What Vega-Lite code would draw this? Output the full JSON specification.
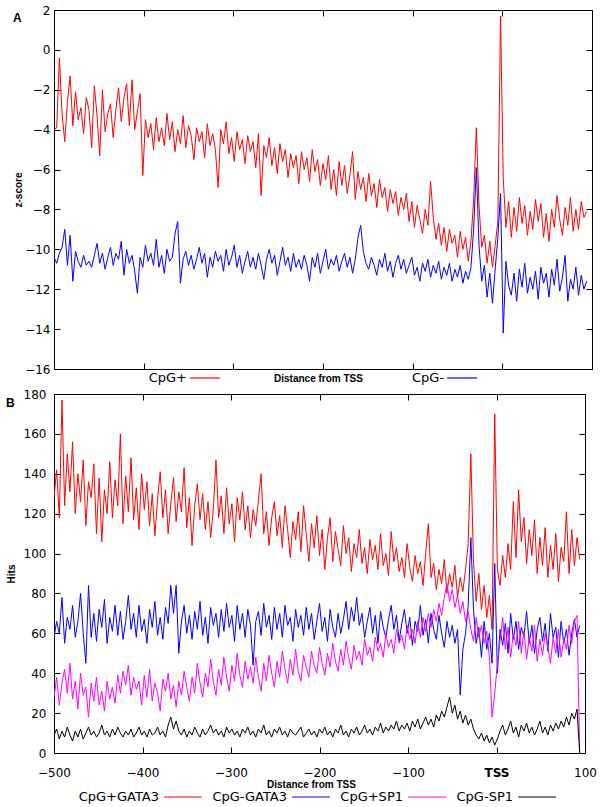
{
"$schema": "https://vega.github.io/schema/vega-lite/v6.json",
"background": "white",
"padding": {"left": 5, "top": 3, "right": 8, "bottom": 2},
"spacing": 1,
"config": {
  "font": "DejaVu Sans",
  "view": {"stroke": "black", "strokeWidth": 1},
  "axis": {"grid": false, "domainColor": "black", "domainWidth": 1, "tickColor": "black", "tickSize": -6, "labelFont": "DejaVu Sans", "labelFontSize": 12, "labelColor": "black", "labelFlush": false, "labelOverlap": false, "titleFont": "Liberation Sans", "titleFontWeight": "bold", "titleFontSize": 10, "titleColor": "black"},
  "legend": {"labelFont": "DejaVu Sans", "labelFontSize": 13, "labelColor": "black", "symbolType": "stroke", "symbolStrokeWidth": 1.2}
},
"datasets": {"d": [
{"x":-500,"p":-4.0,"m":-10.4,"a":128,"b":58,"c":28,"d":9},
{"x":-497,"p":-3.9,"m":-10.7,"a":142,"b":66,"c":38,"d":12},
{"x":-494,"p":-0.4,"m":-10.2,"a":118,"b":60,"c":24,"d":7},
{"x":-491,"p":-3.2,"m":-9.9,"a":177,"b":78,"c":35,"d":11},
{"x":-488,"p":-4.6,"m":-9.0,"a":124,"b":55,"c":42,"d":8},
{"x":-485,"p":-2.6,"m":-10.8,"a":150,"b":68,"c":30,"d":13},
{"x":-482,"p":-1.3,"m":-9.3,"a":131,"b":62,"c":45,"d":9},
{"x":-479,"p":-3.8,"m":-11.6,"a":156,"b":74,"c":27,"d":6},
{"x":-476,"p":-2.1,"m":-10.1,"a":120,"b":58,"c":36,"d":11},
{"x":-473,"p":-3.5,"m":-10.6,"a":140,"b":66,"c":22,"d":8},
{"x":-470,"p":-2.9,"m":-10.9,"a":126,"b":80,"c":40,"d":12},
{"x":-467,"p":-4.2,"m":-10.3,"a":147,"b":60,"c":29,"d":7},
{"x":-464,"p":-2.4,"m":-10.8,"a":114,"b":45,"c":33,"d":10},
{"x":-461,"p":-3.0,"m":-10.6,"a":136,"b":84,"c":18,"d":13},
{"x":-458,"p":-4.9,"m":-10.9,"a":128,"b":58,"c":35,"d":9},
{"x":-455,"p":-1.8,"m":-10.3,"a":145,"b":70,"c":26,"d":11},
{"x":-452,"p":-3.3,"m":-9.7,"a":110,"b":56,"c":38,"d":8},
{"x":-449,"p":-5.3,"m":-10.7,"a":138,"b":72,"c":24,"d":10},
{"x":-446,"p":-2.0,"m":-10.2,"a":106,"b":63,"c":31,"d":14},
{"x":-443,"p":-4.1,"m":-11.0,"a":132,"b":77,"c":21,"d":9},
{"x":-440,"p":-3.2,"m":-10.4,"a":120,"b":55,"c":36,"d":11},
{"x":-437,"p":-2.7,"m":-9.9,"a":146,"b":68,"c":27,"d":8},
{"x":-434,"p":-4.4,"m":-10.8,"a":118,"b":61,"c":33,"d":12},
{"x":-431,"p":-3.0,"m":-10.2,"a":137,"b":74,"c":25,"d":9},
{"x":-428,"p":-1.9,"m":-10.5,"a":124,"b":59,"c":39,"d":13},
{"x":-425,"p":-3.6,"m":-9.6,"a":160,"b":71,"c":30,"d":10},
{"x":-422,"p":-2.4,"m":-11.3,"a":115,"b":57,"c":41,"d":8},
{"x":-419,"p":-1.7,"m":-10.0,"a":139,"b":66,"c":34,"d":11},
{"x":-416,"p":-3.8,"m":-10.7,"a":121,"b":79,"c":44,"d":9},
{"x":-413,"p":-1.5,"m":-10.3,"a":148,"b":62,"c":29,"d":12},
{"x":-410,"p":-4.0,"m":-11.1,"a":117,"b":70,"c":38,"d":8},
{"x":-407,"p":-3.1,"m":-12.2,"a":133,"b":58,"c":32,"d":10},
{"x":-404,"p":-2.2,"m":-10.4,"a":112,"b":74,"c":36,"d":13},
{"x":-401,"p":-6.3,"m":-10.9,"a":140,"b":61,"c":24,"d":9},
{"x":-398,"p":-3.5,"m":-9.8,"a":122,"b":67,"c":39,"d":11},
{"x":-395,"p":-4.4,"m":-10.6,"a":136,"b":55,"c":28,"d":8},
{"x":-392,"p":-3.7,"m":-10.2,"a":114,"b":72,"c":42,"d":12},
{"x":-389,"p":-5.0,"m":-10.8,"a":130,"b":63,"c":26,"d":9},
{"x":-386,"p":-3.4,"m":-9.5,"a":109,"b":76,"c":35,"d":10},
{"x":-383,"p":-4.6,"m":-10.9,"a":127,"b":59,"c":30,"d":13},
{"x":-380,"p":-3.9,"m":-10.3,"a":141,"b":68,"c":21,"d":9},
{"x":-377,"p":-4.8,"m":-11.2,"a":118,"b":57,"c":37,"d":11},
{"x":-374,"p":-3.2,"m":-10.0,"a":132,"b":73,"c":31,"d":8},
{"x":-371,"p":-4.5,"m":-10.6,"a":110,"b":65,"c":40,"d":14},
{"x":-368,"p":-3.6,"m":-10.4,"a":125,"b":84,"c":27,"d":18},
{"x":-365,"p":-5.1,"m":-9.2,"a":138,"b":70,"c":34,"d":12},
{"x":-362,"p":-4.0,"m":-8.6,"a":116,"b":84,"c":23,"d":16},
{"x":-359,"p":-4.7,"m":-11.7,"a":131,"b":50,"c":36,"d":11},
{"x":-356,"p":-3.3,"m":-10.5,"a":121,"b":66,"c":29,"d":9},
{"x":-353,"p":-4.9,"m":-10.1,"a":143,"b":74,"c":41,"d":12},
{"x":-350,"p":-3.8,"m":-10.8,"a":113,"b":60,"c":33,"d":8},
{"x":-347,"p":-4.3,"m":-10.3,"a":128,"b":69,"c":26,"d":11},
{"x":-344,"p":-5.5,"m":-11.0,"a":104,"b":57,"c":38,"d":9},
{"x":-341,"p":-3.9,"m":-10.5,"a":124,"b":71,"c":30,"d":13},
{"x":-338,"p":-4.6,"m":-9.9,"a":135,"b":62,"c":45,"d":10},
{"x":-335,"p":-4.1,"m":-10.7,"a":117,"b":76,"c":35,"d":8},
{"x":-332,"p":-5.4,"m":-10.2,"a":130,"b":59,"c":28,"d":12},
{"x":-329,"p":-3.7,"m":-11.4,"a":112,"b":68,"c":40,"d":9},
{"x":-326,"p":-4.8,"m":-10.4,"a":126,"b":55,"c":33,"d":11},
{"x":-323,"p":-4.2,"m":-10.9,"a":108,"b":73,"c":47,"d":14},
{"x":-320,"p":-5.0,"m":-10.1,"a":122,"b":64,"c":36,"d":10},
{"x":-317,"p":-6.9,"m":-10.6,"a":147,"b":70,"c":29,"d":12},
{"x":-314,"p":-4.0,"m":-10.3,"a":118,"b":58,"c":42,"d":9},
{"x":-311,"p":-4.7,"m":-11.1,"a":129,"b":72,"c":34,"d":11},
{"x":-308,"p":-3.6,"m":-10.0,"a":110,"b":61,"c":48,"d":8},
{"x":-305,"p":-5.2,"m":-10.8,"a":133,"b":75,"c":38,"d":13},
{"x":-302,"p":-4.4,"m":-10.4,"a":115,"b":63,"c":31,"d":10},
{"x":-299,"p":-5.6,"m":-9.8,"a":125,"b":69,"c":44,"d":12},
{"x":-296,"p":-4.1,"m":-10.9,"a":106,"b":56,"c":36,"d":9},
{"x":-293,"p":-5.0,"m":-10.3,"a":128,"b":74,"c":50,"d":11},
{"x":-290,"p":-4.5,"m":-11.2,"a":117,"b":62,"c":39,"d":8},
{"x":-287,"p":-5.7,"m":-10.6,"a":131,"b":70,"c":33,"d":12},
{"x":-284,"p":-4.3,"m":-10.1,"a":112,"b":58,"c":46,"d":10},
{"x":-281,"p":-5.1,"m":-10.9,"a":124,"b":72,"c":37,"d":13},
{"x":-278,"p":-4.6,"m":-10.4,"a":108,"b":64,"c":43,"d":9},
{"x":-275,"p":-5.9,"m":-11.0,"a":122,"b":44,"c":35,"d":11},
{"x":-272,"p":-4.2,"m":-10.2,"a":114,"b":66,"c":48,"d":8},
{"x":-269,"p":-7.3,"m":-10.8,"a":127,"b":71,"c":38,"d":12},
{"x":-266,"p":-4.8,"m":-11.5,"a":140,"b":59,"c":31,"d":10},
{"x":-263,"p":-5.4,"m":-10.5,"a":110,"b":75,"c":45,"d":14},
{"x":-260,"p":-4.4,"m":-10.0,"a":121,"b":63,"c":36,"d":9},
{"x":-257,"p":-5.8,"m":-10.7,"a":104,"b":69,"c":49,"d":11},
{"x":-254,"p":-4.9,"m":-10.3,"a":118,"b":57,"c":40,"d":8},
{"x":-251,"p":-6.2,"m":-11.3,"a":126,"b":73,"c":33,"d":12},
{"x":-248,"p":-4.7,"m":-10.6,"a":109,"b":62,"c":46,"d":10},
{"x":-245,"p":-5.6,"m":-9.9,"a":119,"b":70,"c":38,"d":13},
{"x":-242,"p":-5.0,"m":-10.8,"a":103,"b":58,"c":51,"d":9},
{"x":-239,"p":-6.4,"m":-10.4,"a":124,"b":74,"c":42,"d":11},
{"x":-236,"p":-5.2,"m":-11.1,"a":112,"b":64,"c":35,"d":8},
{"x":-233,"p":-5.9,"m":-10.2,"a":98,"b":68,"c":47,"d":12},
{"x":-230,"p":-5.3,"m":-10.9,"a":116,"b":56,"c":39,"d":10},
{"x":-227,"p":-6.7,"m":-10.5,"a":107,"b":72,"c":52,"d":9},
{"x":-224,"p":-5.1,"m":-11.0,"a":121,"b":63,"c":41,"d":11},
{"x":-221,"p":-6.0,"m":-10.3,"a":101,"b":69,"c":36,"d":13},
{"x":-218,"p":-5.4,"m":-10.8,"a":124,"b":59,"c":49,"d":8},
{"x":-215,"p":-6.6,"m":-11.6,"a":110,"b":73,"c":43,"d":10},
{"x":-212,"p":-5.0,"m":-10.4,"a":96,"b":62,"c":38,"d":12},
{"x":-209,"p":-6.1,"m":-10.9,"a":115,"b":70,"c":51,"d":9},
{"x":-206,"p":-5.5,"m":-10.2,"a":103,"b":57,"c":44,"d":11},
{"x":-203,"p":-6.8,"m":-11.2,"a":119,"b":66,"c":40,"d":8},
{"x":-200,"p":-5.7,"m":-10.6,"a":99,"b":75,"c":53,"d":12},
{"x":-197,"p":-6.5,"m":-10.0,"a":112,"b":61,"c":45,"d":10},
{"x":-194,"p":-5.3,"m":-11.0,"a":92,"b":68,"c":39,"d":13},
{"x":-191,"p":-7.0,"m":-10.5,"a":108,"b":56,"c":50,"d":9},
{"x":-188,"p":-6.0,"m":-10.8,"a":118,"b":72,"c":43,"d":11},
{"x":-185,"p":-7.3,"m":-10.3,"a":96,"b":63,"c":55,"d":8},
{"x":-182,"p":-5.6,"m":-11.1,"a":111,"b":58,"c":46,"d":12},
{"x":-179,"p":-6.8,"m":-10.6,"a":102,"b":70,"c":41,"d":10},
{"x":-176,"p":-5.8,"m":-10.2,"a":94,"b":60,"c":52,"d":14},
{"x":-173,"p":-7.2,"m":-10.9,"a":114,"b":67,"c":44,"d":9},
{"x":-170,"p":-6.3,"m":-10.4,"a":100,"b":76,"c":56,"d":11},
{"x":-167,"p":-5.1,"m":-11.2,"a":108,"b":62,"c":48,"d":8},
{"x":-164,"p":-7.5,"m":-10.5,"a":91,"b":73,"c":42,"d":12},
{"x":-161,"p":-6.1,"m":-9.4,"a":105,"b":66,"c":54,"d":10},
{"x":-158,"p":-7.0,"m":-8.8,"a":98,"b":78,"c":47,"d":13},
{"x":-155,"p":-6.4,"m":-10.1,"a":112,"b":64,"c":51,"d":9},
{"x":-152,"p":-7.6,"m":-10.7,"a":95,"b":70,"c":44,"d":11},
{"x":-149,"p":-6.2,"m":-11.0,"a":103,"b":58,"c":57,"d":14},
{"x":-146,"p":-7.3,"m":-10.4,"a":90,"b":66,"c":49,"d":10},
{"x":-143,"p":-6.7,"m":-10.8,"a":107,"b":73,"c":53,"d":12},
{"x":-140,"p":-7.9,"m":-11.3,"a":97,"b":60,"c":46,"d":9},
{"x":-137,"p":-6.5,"m":-10.5,"a":104,"b":69,"c":58,"d":13},
{"x":-134,"p":-7.4,"m":-10.9,"a":92,"b":55,"c":51,"d":11},
{"x":-131,"p":-6.9,"m":-10.2,"a":110,"b":71,"c":55,"d":15},
{"x":-128,"p":-8.1,"m":-11.1,"a":94,"b":63,"c":48,"d":10},
{"x":-125,"p":-7.0,"m":-10.6,"a":100,"b":58,"c":60,"d":13},
{"x":-122,"p":-7.7,"m":-11.4,"a":89,"b":67,"c":53,"d":11},
{"x":-119,"p":-7.1,"m":-10.7,"a":111,"b":74,"c":57,"d":14},
{"x":-116,"p":-8.3,"m":-10.3,"a":96,"b":62,"c":50,"d":12},
{"x":-113,"p":-7.4,"m":-11.0,"a":103,"b":69,"c":62,"d":16},
{"x":-110,"p":-8.0,"m":-10.5,"a":91,"b":56,"c":55,"d":11},
{"x":-107,"p":-7.2,"m":-11.2,"a":98,"b":65,"c":59,"d":14},
{"x":-104,"p":-8.6,"m":-10.8,"a":88,"b":72,"c":52,"d":12},
{"x":-101,"p":-7.6,"m":-10.4,"a":105,"b":60,"c":64,"d":15},
{"x":-98,"p":-8.9,"m":-11.3,"a":93,"b":68,"c":57,"d":11},
{"x":-95,"p":-7.8,"m":-10.9,"a":86,"b":54,"c":62,"d":16},
{"x":-92,"p":-8.5,"m":-11.6,"a":99,"b":66,"c":55,"d":13},
{"x":-89,"p":-9.2,"m":-10.7,"a":90,"b":61,"c":66,"d":17},
{"x":-86,"p":-8.0,"m":-11.1,"a":96,"b":74,"c":58,"d":12},
{"x":-83,"p":-8.8,"m":-10.5,"a":84,"b":59,"c":68,"d":15},
{"x":-80,"p":-6.6,"m":-11.4,"a":100,"b":67,"c":61,"d":18},
{"x":-77,"p":-8.4,"m":-10.8,"a":115,"b":55,"c":70,"d":14},
{"x":-74,"p":-9.5,"m":-11.2,"a":88,"b":70,"c":63,"d":17},
{"x":-71,"p":-8.7,"m":-10.6,"a":95,"b":62,"c":72,"d":13},
{"x":-68,"p":-9.8,"m":-11.5,"a":82,"b":57,"c":66,"d":19},
{"x":-65,"p":-8.9,"m":-10.9,"a":92,"b":69,"c":75,"d":16},
{"x":-62,"p":-10.1,"m":-11.3,"a":85,"b":60,"c":69,"d":21},
{"x":-59,"p":-9.0,"m":-10.7,"a":97,"b":53,"c":78,"d":18},
{"x":-56,"p":-9.7,"m":-11.6,"a":80,"b":66,"c":85,"d":23},
{"x":-53,"p":-9.3,"m":-11.0,"a":90,"b":58,"c":76,"d":28},
{"x":-50,"p":-10.4,"m":-11.4,"a":83,"b":64,"c":82,"d":20},
{"x":-47,"p":-9.1,"m":-10.8,"a":94,"b":55,"c":73,"d":24},
{"x":-44,"p":-10.0,"m":-11.7,"a":78,"b":62,"c":79,"d":17},
{"x":-41,"p":-9.4,"m":-11.1,"a":88,"b":29,"c":70,"d":21},
{"x":-38,"p":-10.6,"m":-11.5,"a":81,"b":52,"c":76,"d":15},
{"x":-35,"p":-9.6,"m":-10.9,"a":92,"b":60,"c":66,"d":19},
{"x":-32,"p":-7.5,"m":-9.0,"a":105,"b":74,"c":71,"d":14},
{"x":-29,"p":-3.9,"m":-5.9,"a":150,"b":108,"c":62,"d":17},
{"x":-26,"p":-7.8,"m":-9.8,"a":96,"b":72,"c":56,"d":12},
{"x":-23,"p":-9.9,"m":-11.6,"a":76,"b":55,"c":68,"d":9},
{"x":-20,"p":-9.3,"m":-10.8,"a":90,"b":63,"c":58,"d":7},
{"x":-17,"p":-10.7,"m":-12.4,"a":72,"b":48,"c":64,"d":10},
{"x":-14,"p":-9.6,"m":-11.2,"a":84,"b":66,"c":55,"d":6},
{"x":-11,"p":-10.9,"m":-12.7,"a":68,"b":52,"c":61,"d":9},
{"x":-8,"p":-9.8,"m":-11.0,"a":79,"b":60,"c":48,"d":5},
{"x":-5,"p":-8.6,"m":-9.4,"a":62,"b":45,"c":18,"d":8},
{"x":-2,"p":1.7,"m":-7.2,"a":170,"b":95,"c":30,"d":4},
{"x":1,"p":-6.4,"m":-14.2,"a":92,"b":40,"c":45,"d":7},
{"x":4,"p":-8.9,"m":-10.6,"a":84,"b":62,"c":56,"d":11},
{"x":7,"p":-7.6,"m":-11.8,"a":99,"b":54,"c":68,"d":14},
{"x":10,"p":-9.4,"m":-12.3,"a":88,"b":65,"c":52,"d":9},
{"x":13,"p":-7.9,"m":-11.2,"a":105,"b":50,"c":63,"d":12},
{"x":16,"p":-9.1,"m":-12.6,"a":92,"b":70,"c":48,"d":16},
{"x":19,"p":-7.4,"m":-11.0,"a":126,"b":57,"c":60,"d":10},
{"x":22,"p":-8.7,"m":-11.9,"a":98,"b":66,"c":54,"d":13},
{"x":25,"p":-7.8,"m":-10.7,"a":132,"b":52,"c":66,"d":8},
{"x":28,"p":-9.3,"m":-12.2,"a":106,"b":63,"c":50,"d":14},
{"x":31,"p":-8.1,"m":-11.4,"a":118,"b":58,"c":61,"d":11},
{"x":34,"p":-9.0,"m":-12.0,"a":95,"b":71,"c":47,"d":15},
{"x":37,"p":-7.5,"m":-11.1,"a":112,"b":55,"c":58,"d":10},
{"x":40,"p":-8.6,"m":-12.5,"a":99,"b":64,"c":51,"d":13},
{"x":43,"p":-7.7,"m":-10.9,"a":117,"b":50,"c":64,"d":9},
{"x":46,"p":-9.4,"m":-11.7,"a":90,"b":62,"c":46,"d":12},
{"x":49,"p":-8.2,"m":-11.2,"a":108,"b":68,"c":57,"d":16},
{"x":52,"p":-9.6,"m":-12.4,"a":94,"b":56,"c":49,"d":10},
{"x":55,"p":-8.0,"m":-11.0,"a":113,"b":65,"c":60,"d":13},
{"x":58,"p":-8.9,"m":-11.8,"a":88,"b":51,"c":53,"d":9},
{"x":61,"p":-7.3,"m":-10.5,"a":104,"b":70,"c":45,"d":14},
{"x":64,"p":-8.5,"m":-12.1,"a":92,"b":58,"c":58,"d":11},
{"x":67,"p":-9.3,"m":-11.4,"a":110,"b":63,"c":50,"d":15},
{"x":70,"p":-7.9,"m":-10.3,"a":86,"b":48,"c":62,"d":12},
{"x":73,"p":-8.8,"m":-12.6,"a":103,"b":66,"c":48,"d":16},
{"x":76,"p":-7.4,"m":-11.5,"a":96,"b":55,"c":57,"d":13},
{"x":79,"p":-9.1,"m":-12.0,"a":121,"b":62,"c":52,"d":18},
{"x":82,"p":-8.0,"m":-10.9,"a":90,"b":49,"c":64,"d":14},
{"x":85,"p":-9.0,"m":-12.3,"a":112,"b":60,"c":55,"d":20},
{"x":88,"p":-7.6,"m":-11.3,"a":94,"b":67,"c":66,"d":17},
{"x":91,"p":-8.4,"m":-12.0,"a":108,"b":58,"c":69,"d":22},
{"x":94,"p":-8.1,"m":-11.6,"a":97,"b":64,"c":0,"d":0}
]},
"resolve": {"scale": {"color": "independent"}, "legend": {"color": "independent"}},
"vconcat": [
 {
  "width": 538, "height": 359,
  "title": {"text": "A", "orient": "top", "anchor": "start", "frame": "bounds", "offset": -21, "baseline": "top", "fontSize": 12, "fontWeight": "bold", "font": "Liberation Sans", "color": "black"},
  "layer": [
   {
    "data": {"name": "d"},
    "transform": [{"fold": ["p", "m"], "as": ["k", "v"]}],
    "mark": {"type": "line", "strokeWidth": 1, "clip": true},
    "encoding": {
      "x": {"field": "x", "type": "quantitative", "scale": {"domain": [-500, 100], "nice": false, "zero": false}, "axis": {"orient": "bottom", "values": [-400, -300, -200, -100, 0], "labels": false, "title": "Distance from TSS", "titlePadding": 4, "minExtent": 0, "maxExtent": 0, "titleX": 264}},
      "y": {"field": "v", "type": "quantitative", "scale": {"domain": [-16, 2], "nice": false, "zero": false}, "axis": {"orient": "left", "values": [-16, -14, -12, -10, -8, -6, -4, -2, 0, 2], "title": "z-score", "labelPadding": 10, "titlePadding": 3, "minExtent": 28, "maxExtent": 28}},
      "color": {"field": "k", "type": "nominal", "sort": ["p", "m"], "scale": {"domain": ["p", "m"], "range": ["#ff0000", "#0000ff"]}, "legend": {"orient": "none", "direction": "horizontal", "legendX": 135, "legendY": 352, "columnPadding": 188, "title": null, "symbolSize": 900, "labelFontSize": 13, "labelExpr": "datum.label == 'p' ? 'CpG+' : 'CpG-'", "labelAlign": "right", "labelOffset": -34}}
    }
   },
   {
    "data": {"values": [{"x": 0, "v": 0}]},
    "mark": {"type": "point", "opacity": 0},
    "encoding": {
      "x": {"field": "x", "type": "quantitative", "scale": {"domain": [-500, 100], "nice": false, "zero": false}, "axis": {"orient": "top", "values": [-400, -300, -200, -100, 0], "labels": false, "title": null}},
      "y": {"field": "v", "type": "quantitative", "scale": {"domain": [-16, 2], "nice": false, "zero": false}, "axis": {"orient": "right", "values": [-16, -14, -12, -10, -8, -6, -4, -2, 0, 2], "labels": false, "title": null}}
    }
   }
  ],
  "resolve": {"axis": {"x": "independent", "y": "independent"}}
 },
 {
  "width": 531, "height": 359,
  "title": {"text": "B", "orient": "top", "anchor": "start", "frame": "bounds", "offset": -22, "baseline": "top", "fontSize": 12, "fontWeight": "bold", "font": "Liberation Sans", "color": "black"},
  "layer": [
   {
    "data": {"name": "d"},
    "transform": [{"fold": ["a", "b", "c", "d"], "as": ["k", "v"]}],
    "mark": {"type": "line", "strokeWidth": 1, "clip": true},
    "encoding": {
      "x": {"field": "x", "type": "quantitative", "scale": {"domain": [-500, 100], "nice": false, "zero": false}, "axis": {"orient": "bottom", "values": [-500, -400, -300, -200, -100, 0, 100], "labelExpr": "datum.value == 0 ? 'TSS' : datum.label", "labelFontWeight": {"condition": {"test": "datum.value == 0", "value": "bold"}, "value": "normal"}, "labelPadding": 20, "title": "Distance from TSS", "titlePadding": 4, "minExtent": 22, "maxExtent": 22, "titleX": 257}},
      "y": {"field": "v", "type": "quantitative", "scale": {"domain": [0, 180], "nice": false, "zero": false}, "axis": {"orient": "left", "values": [0, 20, 40, 60, 80, 100, 120, 140, 160, 180], "title": "Hits", "labelPadding": 14, "titlePadding": 3, "minExtent": 35, "maxExtent": 35}},
      "color": {"field": "k", "type": "nominal", "sort": ["a", "b", "c", "d"], "scale": {"domain": ["a", "b", "c", "d"], "range": ["#ff0000", "#0000ff", "#ff00ff", "#000000"]}, "legend": {"orient": "none", "direction": "horizontal", "legendX": 109, "legendY": 383, "columnPadding": 7, "title": null, "symbolSize": 1444, "labelFontSize": 13, "labelExpr": "datum.label == 'a' ? 'CpG+GATA3' : datum.label == 'b' ? 'CpG-GATA3' : datum.label == 'c' ? 'CpG+SP1' : 'CpG-SP1'", "labelAlign": "right", "labelOffset": -44}}
    }
   },
   {
    "data": {"values": [{"x": 0, "v": 0}]},
    "mark": {"type": "point", "opacity": 0},
    "encoding": {
      "x": {"field": "x", "type": "quantitative", "scale": {"domain": [-500, 100], "nice": false, "zero": false}, "axis": {"orient": "top", "values": [-400, -300, -200, -100, 0], "labels": false, "title": null}},
      "y": {"field": "v", "type": "quantitative", "scale": {"domain": [0, 180], "nice": false, "zero": false}, "axis": {"orient": "right", "values": [0, 20, 40, 60, 80, 100, 120, 140, 160, 180], "labels": false, "title": null}}
    }
   }
  ],
  "resolve": {"axis": {"x": "independent", "y": "independent"}}
 }
]
}
